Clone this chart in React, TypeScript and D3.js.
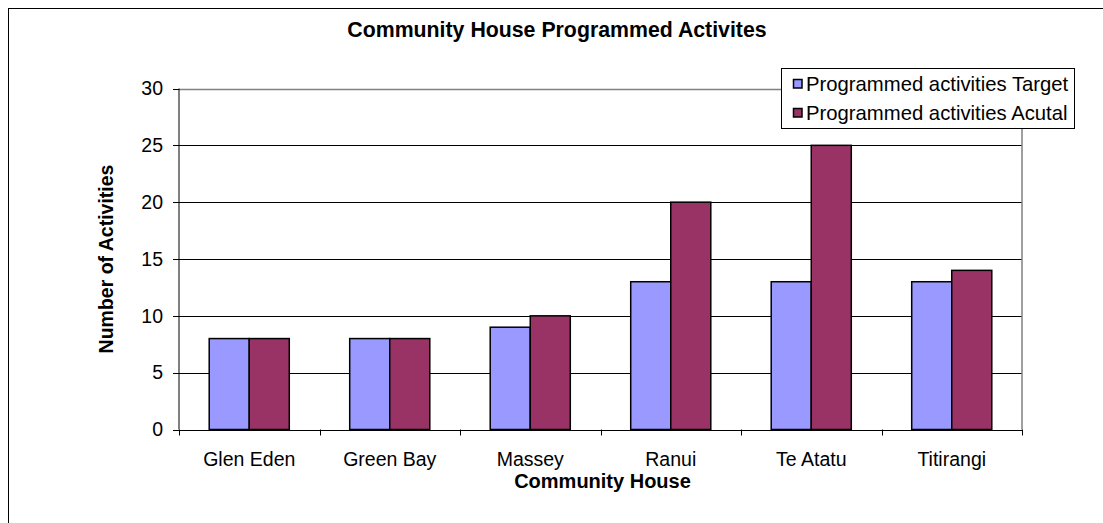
import React from "react";
import * as d3 from "d3";

const categories = ["Glen Eden", "Green Bay", "Massey", "Ranui", "Te Atatu", "Titirangi"];
const seriesNames = ["Programmed activities Target", "Programmed activities Acutal"];
const targetValues = [8, 8, 9, 13, 13, 13];
const actualValues = [8, 8, 10, 20, 25, 14];
const yTicks = [0, 5, 10, 15, 20, 25, 30];
const colors = ["#9999FF", "#993366"];

const FONT = "'Liberation Sans', Arial, sans-serif";

export default function App() {
  const left = 179, right = 1022, top = 88.5, bottom = 429.5;
  const x = d3.scaleBand<string>().domain(categories).range([left, right]).paddingInner(0.43).paddingOuter(0.215);
  const xs = d3.scaleBand<string>().domain(seriesNames).range([0, x.bandwidth()]);
  const y = d3.scaleLinear().domain([0, 30]).range([bottom, top]);
  const series = [targetValues, actualValues];
  const step = (right - left) / categories.length;
  const boundaries = d3.range(categories.length + 1).map((i) => left + i * step);

  return (
    <svg width={1103} height={523} style={{ position: "absolute", left: 0, top: 0 }} fontFamily={FONT}>
      <rect x={8.5} y={8.5} width={1110} height={530} fill="white" stroke="black" strokeWidth={1} />
      <text x={557} y={37} textAnchor="middle" fontSize={21.3} fontWeight="bold">Community House Programmed Activites</text>

      {/* gridlines */}
      {yTicks.map((t) => (
        <line key={"g" + t} x1={left} x2={right} y1={Math.round(y(t)) + 0.5} y2={Math.round(y(t)) + 0.5}
          stroke={t === 30 ? "#808080" : "#000"} strokeWidth={t === 30 ? 1.5 : 1} />
      ))}
      <line x1={right} x2={right} y1={top} y2={bottom} stroke="#808080" strokeWidth={1.5} />

      {/* bars */}
      {categories.map((c, i) => (
        <g key={c}>
          {series.map((vals, s) => (
            <rect key={s} x={(x(c) as number) + (xs(seriesNames[s]) as number)} y={y(vals[i])}
              width={xs.bandwidth()} height={y(0) - y(vals[i])} fill={colors[s]} stroke="#000" strokeWidth={1.5} />
          ))}
        </g>
      ))}

      {/* axes */}
      <line x1={left} x2={left} y1={top} y2={bottom} stroke="#000" strokeWidth={1} />
      <line x1={left} x2={right} y1={Math.round(y(0)) + 0.5} y2={Math.round(y(0)) + 0.5} stroke="#000" strokeWidth={1} />
      {yTicks.map((t) => (
        <g key={"t" + t}>
          <line x1={left - 6} x2={left} y1={Math.round(y(t)) + 0.5} y2={Math.round(y(t)) + 0.5} stroke="#000" />
          <text x={163} y={y(t)} dy="0.35em" textAnchor="end" fontSize={19.5}>{t}</text>
        </g>
      ))}
      {boundaries.map((b, i) => (
        <line key={"b" + i} x1={Math.round(b) + 0.5} x2={Math.round(b) + 0.5} y1={bottom} y2={bottom + 6} stroke="#000" />
      ))}
      {categories.map((c) => (
        <text key={"l" + c} x={(x(c) as number) + x.bandwidth() / 2} y={466} textAnchor="middle" fontSize={19.5}>{c}</text>
      ))}
      <text x={(left + right) / 2 + 2} y={488} textAnchor="middle" fontSize={20} fontWeight="bold">Community House</text>
      <text transform={`translate(113,${(top + bottom) / 2}) rotate(-90)`} textAnchor="middle" fontSize={19.5} fontWeight="bold">Number of Activities</text>

      {/* legend */}
      <rect x={781.5} y={68.5} width={293} height={60} fill="white" stroke="#000" strokeWidth={1} />
      {seriesNames.map((n, i) => (
        <g key={n} transform={`translate(0,${i * 29})`}>
          <rect x={793.5} y={79.5} width={8.5} height={8.5} fill={colors[i]} stroke="#000" strokeWidth={1.5} />
          <text x={806} y={91} fontSize={20.3}>{n}</text>
        </g>
      ))}
    </svg>
  );
}
